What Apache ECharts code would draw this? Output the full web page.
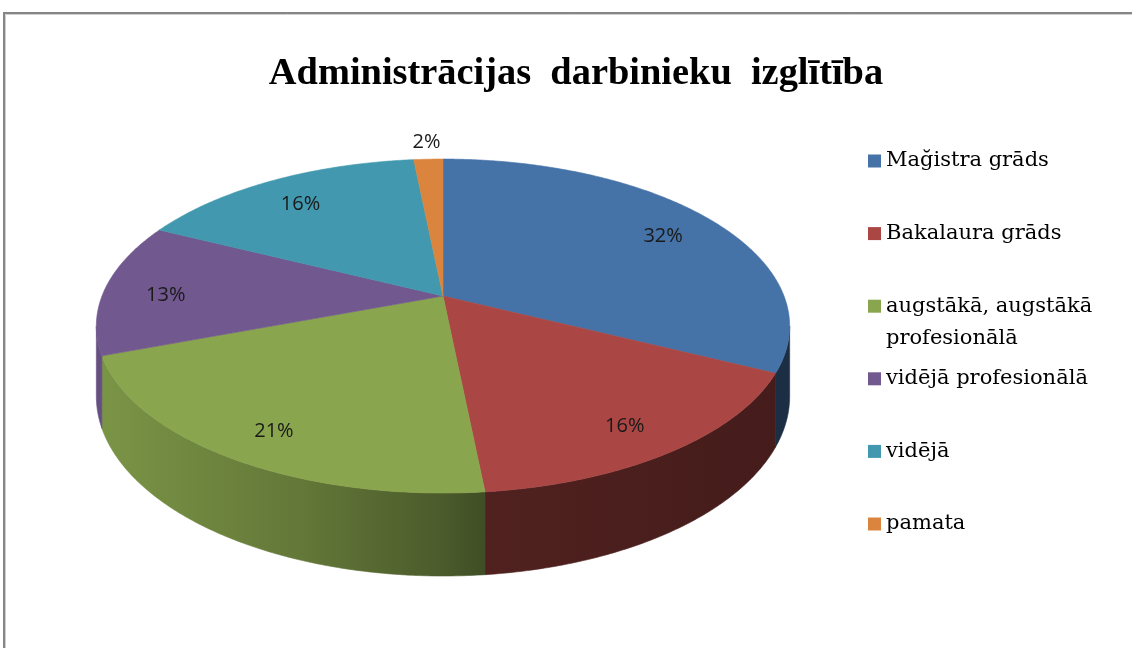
<!DOCTYPE html>
<html>
<head>
<meta charset="utf-8">
<script src="https://cdn.jsdelivr.net/npm/echarts@6/dist/echarts.min.js"></script>
<style>
    html, body { margin: 0; padding: 0; background: #fff; }
    #main { width: 1132px; height: 648px; }
</style>
</head>
<body>
<div id="main"></div>
<script>
    // dati
    var categories = ['Mağistra grāds', 'Bakalaura grāds', 'augstākā, augstākā profesionālā', 'vidējā profesionālā', 'vidējā', 'pamata'];
    var counts = [20, 10, 13, 8, 10, 1];
    var colorList = ['#4572A7', '#AA4643', '#89A54E', '#71588F', '#4198AF', '#DB843D'];

    var total = counts.reduce(function (s, v) { return s + v; }, 0);

    // 3D pie geometry (perspective ellipse)
    var cx = 443, cy = 296, rx = 341, ry = 161.6, persp = 0.18, depth = 68;
    var silhouette = Math.acos(-persp);

    function proj(a, r, drop) {
        var u = r * Math.sin(a), v = r * Math.cos(a);
        var s = 1 / (1 + persp * v);
        return [cx + rx * u * s, cy - ry * v * s + drop * s];
    }
    function arc(a0, a1, r, drop) {
        var pts = [];
        var n = Math.max(2, Math.ceil((a1 - a0) / (Math.PI / 360)));
        for (var i = 0; i <= n; i++) {
            pts.push(proj(a0 + (a1 - a0) * i / n, r, drop));
        }
        return pts;
    }
    function shade(hex, f) {
        var c = parseInt(hex.slice(1), 16);
        var r = Math.round(((c >> 16) & 255) * f), g = Math.round(((c >> 8) & 255) * f), b = Math.round((c & 255) * f);
        return 'rgb(' + r + ',' + g + ',' + b + ')';
    }

    function renderSlice(params, api) {
        var a0 = api.value(0) * 2 * Math.PI;
        var a1 = api.value(1) * 2 * Math.PI;
        var pct = api.value(2) / total;
        var color = colorList[params.seriesIndex];
        var children = [];

        // sānu siena (redzamā priekšpuse)
        var lo = Math.max(a0, silhouette), hi = Math.min(a1, 2 * Math.PI - silhouette);
        if (hi > lo) {
            var top = arc(lo, hi, 1, 0);
            var bottom = arc(lo, hi, 1, depth).reverse();
            var grad = {
                type: 'linear', x: cx - 347, y: 0, x2: cx + 347, y2: 0, global: true,
                colorStops: [
                    {offset: 0, color: shade(color, 0.9)},
                    {offset: 0.3, color: shade(color, 0.72)},
                    {offset: 0.5, color: shade(color, 0.55)},
                    {offset: 0.56, color: shade(color, 0.47)},
                    {offset: 1, color: shade(color, 0.4)}
                ]
            };
            children.push({
                type: 'polygon',
                shape: {points: top.concat(bottom)},
                style: {fill: grad, stroke: grad, lineWidth: 0.6}
            });
        }

        // virsma
        var face = [[cx, cy]].concat(arc(a0, a1, 1, 0));
        children.push({
            type: 'polygon',
            shape: {points: face},
            style: {fill: color, stroke: color, lineWidth: 0.6}
        });

        // procenti
        var mid = (a0 + a1) / 2;
        var lp = pct < 0.05 ? proj(mid, 1.15, 0) : proj(mid, 0.82, 6);
        children.push({
            type: 'text',
            x: lp[0], y: lp[1],
            style: {
                text: Math.round(pct * 100) + '%',
                fill: '#1a1a1a',
                font: '20px "Open Sans"',
                align: 'center',
                verticalAlign: 'middle'
            }
        });
        return {type: 'group', children: children};
    }

    var seriesList = [];
    var acc = 0;
    for (var i = 0; i < categories.length; i++) {
        seriesList.push({
            type: 'custom',
            name: categories[i],
            coordinateSystem: 'none',
            silent: true,
            itemStyle: {color: colorList[i]},
            renderItem: renderSlice,
            data: [[acc / total, (acc + counts[i]) / total, counts[i]]]
        });
        acc += counts[i];
    }

    // leģenda: katrs ieraksts atsevišķi (Excel atstarpes)
    var legendFirst = 161, legendStep = 72.6;
    var legendList = categories.map(function (name, i) {
        var multi = name.indexOf(', ') > 0;
        var c = legendFirst + legendStep * i;
        return {
            data: [name],
            orient: 'vertical',
            left: 868,
            top: multi ? c - 48 : c - 16,
            padding: 0,
            icon: 'rect',
            itemWidth: 13,
            itemHeight: 13,
            selectedMode: false,
            formatter: function (n) {
                return n.indexOf(', ') > 0 ? '\n' + n.replace(', ', ',\u00a0').replace(' ', '\n') : n;
            },
            textStyle: {
                fontFamily: 'DejaVu Serif',
                fontSize: 21,
                lineHeight: 32,
                color: '#000'
            }
        };
    });

    var myChart = echarts.init(document.getElementById('main'));
    myChart.setOption({
        animation: false,
        color: colorList,
        title: {
            text: 'Administrācijas  darbinieku  izglītība',
            left: 571,
            top: 50,
            textAlign: 'center',
            textStyle: {
                fontFamily: 'Liberation Serif',
                fontWeight: 'bold',
                fontSize: 38.4,
                color: '#000'
            }
        },
        legend: legendList,
        graphic: [{
            type: 'rect',
            shape: {x: 4, y: 13, width: 1200, height: 700},
            style: {fill: 'none', stroke: '#868686', lineWidth: 2},
            silent: true
        }, {
            type: 'rect',
            shape: {x: 5.5, y: 14.5, width: 1200, height: 700},
            style: {fill: 'none', stroke: '#d0d0d0', lineWidth: 1},
            silent: true
        }],
        series: seriesList
    });
</script>
</body>
</html>
